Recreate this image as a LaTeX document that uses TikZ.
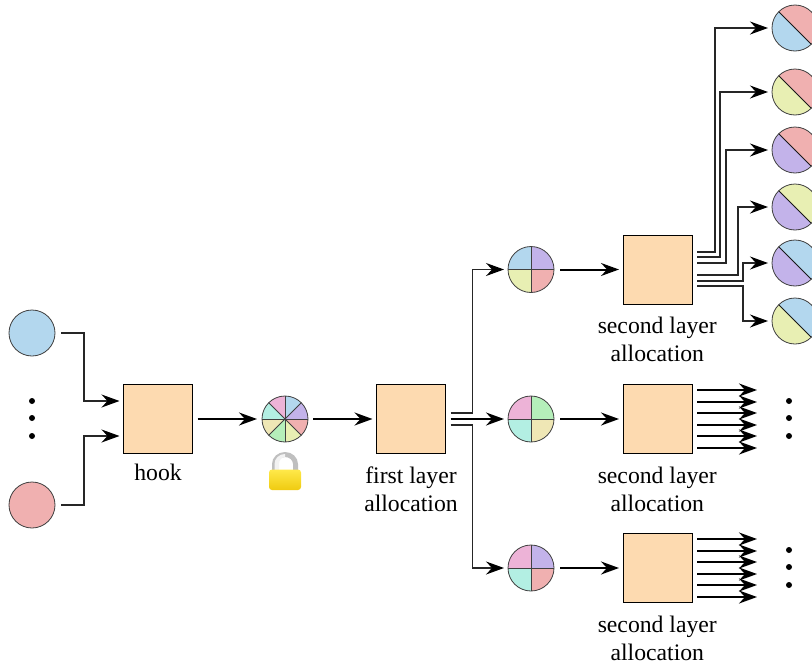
\documentclass[tikz,border=0pt]{standalone}
\usepackage{fontspec}
\setmainfont{Liberation Serif}
\usetikzlibrary{arrows.meta,positioning,calc}
\definecolor{cblue}{HTML}{B3D7EE}
\definecolor{cpurple}{HTML}{C3B3EA}
\definecolor{cpink}{HTML}{F0B0B0}
\definecolor{cyellow}{HTML}{E8EFB3}
\definecolor{cgreen}{HTML}{B5EFBA}
\definecolor{ckhaki}{HTML}{EFE7B5}
\definecolor{cteal}{HTML}{B3EFE3}
\definecolor{cmag}{HTML}{EDB3D7}
\definecolor{cbox}{HTML}{FDDAB0}
\definecolor{locktop}{HTML}{FFE94A}
\definecolor{lockbot}{HTML}{EFCB10}
\newcommand{\wdg}[3]{\fill[#3] (path picture bounding box.center) -- ++(#1:30) arc[start angle=#1,end angle=#2,radius=30] -- cycle;}
\newcommand{\spoke}[1]{\draw[line width=0.8pt,black!75] (path picture bounding box.center) -- ++(#1:30);}
\tikzset{
  x=1pt,y=-1pt,
  ball/.style={circle,draw=black!75,line width=0.8pt,minimum size=46pt,inner sep=0pt,outer sep=0pt},
  quad/.style n args={4}{ball,path picture={\begin{scope}[y=1pt]
     \wdg{90}{180}{#1}\wdg{0}{90}{#2}\wdg{180}{270}{#3}\wdg{270}{360}{#4}
     \spoke{0}\spoke{90}\spoke{180}\spoke{270}\end{scope}}},
  half/.style n args={2}{ball,path picture={\begin{scope}[y=1pt]
     \wdg{-45}{135}{#1}\wdg{135}{315}{#2}
     \draw[line width=0.8pt,black!90] (path picture bounding box.center) -- ++(-45:30);
     \draw[line width=0.8pt,black!90] (path picture bounding box.center) -- ++(135:30);\end{scope}}},
  eight/.style={ball,path picture={\begin{scope}[y=1pt]
     \wdg{45}{90}{cblue}\wdg{0}{45}{cpurple}\wdg{-45}{0}{cpink}\wdg{-90}{-45}{cyellow}
     \wdg{-135}{-90}{cgreen}\wdg{180}{225}{ckhaki}\wdg{135}{180}{cteal}\wdg{90}{135}{cmag}
     \foreach \a in {0,45,...,315}{\spoke{\a}}\end{scope}}},
  procbox/.style={draw=black,line width=0.9pt,fill=cbox,minimum width=69pt,minimum height=69pt,inner sep=0pt,outer sep=0pt},
  lbl/.style={font=\fontsize{23.7}{28}\selectfont,align=center,inner sep=0pt},
  tick/.style={circle,fill=black,minimum size=6pt,inner sep=0pt},
  tip/.style={-{Stealth[length=18pt,width=13pt,inset=6pt,color=black]}},
  bigarrow/.style={tip,line width=2pt},
  thinarrow/.style={tip,line width=1.1pt,draw=black!85},
}
\begin{document}
\begin{tikzpicture}
\useasboundingbox (0,0) rectangle (812,664);
\clip (0,0) rectangle (812,664);
% nodes
\node[ball,fill=cblue] (inA) at (32,333) {};
\node[ball,fill=cpink] (inB) at (32,505) {};
\node[tick] (d1) at (32,401) {};
\node[tick] (d2) at (32,418) {};
\node[tick] (d3) at (32,436) {};
\node[procbox] (hook) at (158,419) {};
\node[lbl] (hookl) at (158,472) {hook};
\node[eight] (mix) at (285,419) {};
\node[procbox] (first) at (411,419) {};
\node[lbl] (firstl) at (411,489.3) {first layer\\allocation};
\node[quad={cblue}{cpurple}{cyellow}{cpink}] (q1) at (531,269.5) {};
\node[quad={cmag}{cgreen}{cteal}{ckhaki}] (q2) at (531,419) {};
\node[quad={cmag}{cpurple}{cteal}{cpink}] (q3) at (531,568) {};
\node[procbox] (s1) at (657.5,269.5) {};
\node[procbox] (s2) at (657.5,419) {};
\node[procbox] (s3) at (657.5,568) {};
\node[lbl] (s1l) at (657.3,339.3) {second layer\\allocation};
\node[lbl] (s2l) at (657.3,489.3) {second layer\\allocation};
\node[lbl] (s3l) at (657.3,638.3) {second layer\\allocation};
\node[half={cpink}{cblue}] (h1) at (795,28) {};
\node[half={cpink}{cyellow}] (h2) at (795,92) {};
\node[half={cpink}{cpurple}] (h3) at (795,150) {};
\node[half={cyellow}{cpurple}] (h4) at (795,207) {};
\node[half={cblue}{cpurple}] (h5) at (795,263) {};
\node[half={cblue}{cyellow}] (h6) at (795,321) {};
\foreach \n/\y in {a/401,b/418,c/436,e/550,f/567,g/585}{\node[tick] (r\n) at (789,\y) {};}
% lock
\fill[gray!50] (272,471) -- (272,464) arc[start angle=180,end angle=0,x radius=13,y radius=-12] -- (298,471) -- (293,471) -- (293,464) arc[start angle=0,end angle=180,x radius=8,y radius=-7] -- (277,471) -- cycle;
\fill[white!90!gray] (274.5,471) -- (274.5,464) arc[start angle=180,end angle=90,x radius=10.5,y radius=-10] -- (285,457) arc[start angle=90,end angle=180,x radius=6,y radius=-7] -- (279,471) -- cycle;
\shade[top color=locktop,bottom color=lockbot,rounded corners=3pt] (269,469.5) rectangle (301,490);
% connectors
\draw[thinarrow] (inA.east) ++(6,0) -- ++(23,0) |- ([shift={(-4,-18)}]hook.west);
\draw[thinarrow] (inB.east) ++(6,0) -- ++(23,0) |- ([shift={(-4,17)}]hook.west);
\draw[bigarrow] ([xshift=5pt]hook.east) -- ([xshift=-5pt]mix.west);
\draw[bigarrow] ([xshift=5pt]mix.east) -- ([xshift=-4pt]first.west);
\draw[thinarrow] ([shift={(5,-6)}]first.east) -- ++(22,0) |- ([xshift=-4pt]q1.west);
\draw[bigarrow] ([xshift=5pt]first.east) -- ([xshift=-4pt]q2.west);
\draw[thinarrow] ([shift={(5,6)}]first.east) -- ++(22,0) |- ([xshift=-4pt]q3.west);
\draw[bigarrow] ([xshift=6pt]q1.east) -- ([xshift=-4pt]s1.west);
\draw[bigarrow] ([xshift=6pt]q2.east) -- ([xshift=-4pt]s2.west);
\draw[bigarrow] ([xshift=6pt]q3.east) -- ([xshift=-4pt]s3.west);
\draw[thinarrow] ([shift={(5,-17.5)}]s1.east) -- ++(18,0) |- ([xshift=-4pt]h1.west);
\draw[thinarrow] ([shift={(5,-12.5)}]s1.east) -- ++(23,0) |- ([xshift=-4pt]h2.west);
\draw[thinarrow] ([shift={(5,-6.5)}]s1.east) -- ++(29,0) |- ([xshift=-4pt]h3.west);
\draw[thinarrow] ([shift={(5,5.5)}]s1.east) -- ++(41,0) |- ([xshift=-4pt]h4.west);
\draw[thinarrow] ([shift={(5,11.5)}]s1.east) -- ++(46,0) |- ([xshift=-4pt]h5.west);
\draw[thinarrow] ([shift={(5,16.5)}]s1.east) -- ++(46,0) |- ([xshift=-4pt]h6.west);
\foreach \b in {s2,s3}{
  \foreach \d in {-29,-17,-6,6,17,29}{
    \draw[bigarrow] ([shift={(5,\d)}]\b.east) -- ++(60,0);
  }
}
\end{tikzpicture}
\end{document}
